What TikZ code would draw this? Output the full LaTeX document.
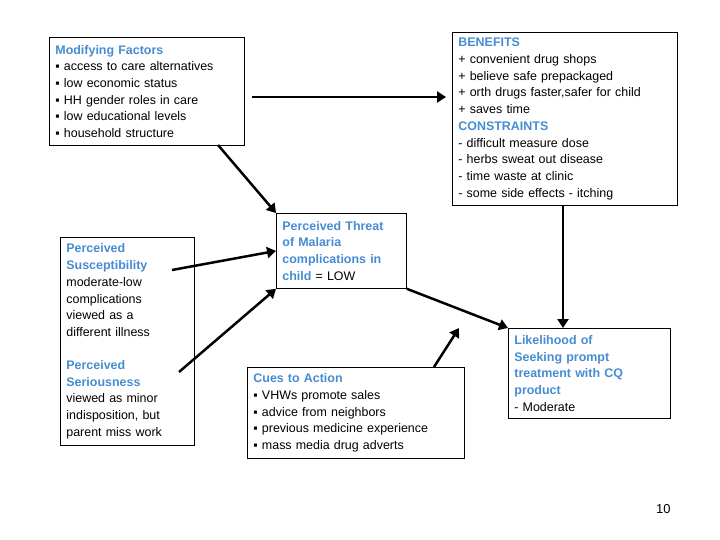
\documentclass[tikz,border=0pt]{standalone}
\usepackage{fontspec}
\setmainfont{Liberation Sans}
\usetikzlibrary{arrows.meta}
\definecolor{hb}{RGB}{70,140,210}
\begin{document}
\begin{tikzpicture}[x=1bp,y=-1bp,
  box/.style={draw,thick,anchor=north west,align=left,inner xsep=6bp,inner ysep=4bp,font=\fontsize{12.5}{16.8}\selectfont},
  hd/.style={color=hb,font=\bfseries},
  arr/.style={line width=2.5pt,-{Triangle[length=9bp,width=11bp]}}]
\useasboundingbox (0,0) rectangle (720,540);
\node[box,text width=183bp,minimum height=108bp] (mf) at (49,37) {\textcolor{hb}{\textbf{Modifying Factors}}\\ ▪ access to care alternatives\\ ▪ low economic status\\ ▪ HH gender roles in care\\ ▪ low educational levels\\ ▪ household structure};
\node[box,text width=213bp,minimum height=173bp] (bc) at (452,32) {\textcolor{hb}{\textbf{BENEFITS}}\\ + convenient drug shops\\ + believe safe prepackaged\\ + orth drugs faster,safer for child\\ + saves time\\ \textcolor{hb}{\textbf{CONSTRAINTS}}\\ - difficult measure dose\\ - herbs sweat out disease\\ - time waste at clinic\\ - some side effects - itching};
\node[box,text width=122bp,minimum height=208bp,inner ysep=6bp] (ps) at (60,237) {\textcolor{hb}{\textbf{Perceived\\ Susceptibility}}\\ moderate-low\\ complications\\ viewed as a\\ different illness\\[16bp] \textcolor{hb}{\textbf{Perceived\\ Seriousness}}\\ viewed as minor\\ indisposition, but\\ parent miss work};
\node[box,text width=118bp,minimum height=75bp] (pt) at (276,213) {\textcolor{hb}{\textbf{Perceived Threat\\ of Malaria\\ complications in\\ child}} = LOW};
\node[box,text width=205bp,minimum height=91bp] (ca) at (247,367) {\textcolor{hb}{\textbf{Cues to Action}}\\ ▪ VHWs promote sales\\ ▪ advice from neighbors\\ ▪ previous medicine experience\\ ▪ mass media drug adverts};
\node[box,text width=150bp,minimum height=90bp] (lk) at (508,328) {\textcolor{hb}{\textbf{Likelihood of\\ Seeking prompt\\ treatment with CQ\\ product}}\\ - Moderate};
\node[anchor=south east,font=\fontsize{13}{15}\selectfont] (pg) at (674,517) {10};
\coordinate (a1) at (252,97); \coordinate (a2) at (446,97);
\draw[arr] (a1) -- (a2);
\draw[arr] (218,145) -- (pt.north west);
\draw[arr] (172,270) -- (pt.west);
\draw[arr] (179,372) -- (pt.south west);
\draw[arr] (563,205) -- (lk.north -| 563,0);
\draw[arr] (pt.south east) -- (lk.north west);
\coordinate (cv) at (459,328);
\draw[arr] (434,367) -- (cv);
\end{tikzpicture}
\end{document}
